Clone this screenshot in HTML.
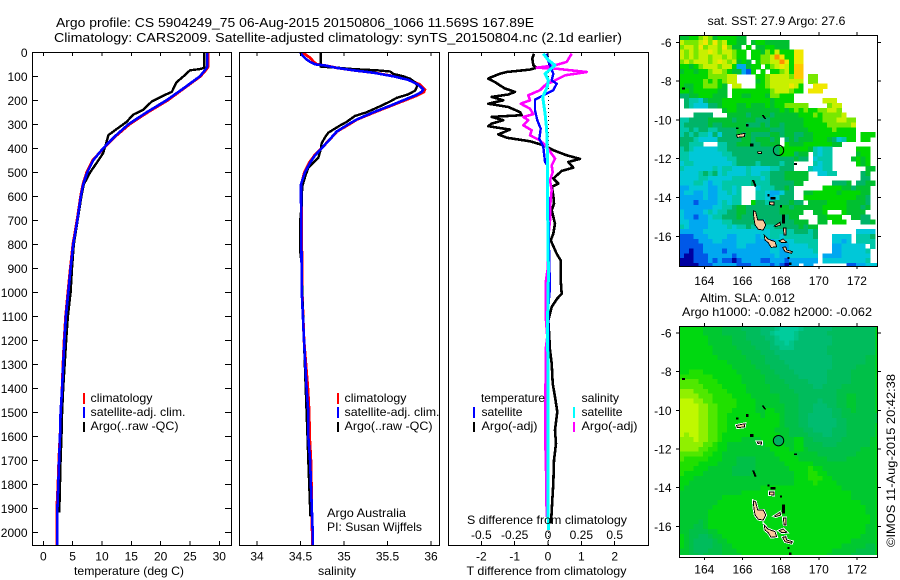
<!DOCTYPE html>
<html lang="en">
<head>
<meta charset="utf-8">
<title>Argo profile 5904249_75</title>
<style>
html,body{margin:0;padding:0;background:#fff;}
svg{display:block;font-family:"Liberation Sans",sans-serif;font-size:12px;fill:#000;}
.crisp{shape-rendering:crispEdges;}
</style>
</head>
<body>
<svg id="chart" xmlns="http://www.w3.org/2000/svg" width="900" height="580" viewBox="0 0 900 580">
  <defs>
    <clipPath id="clip-map-sst"><rect x="679.5" y="35" width="198" height="231"/></clipPath>
    <clipPath id="clip-map-sla"><rect x="679.5" y="326" width="198" height="231"/></clipPath>
    <clipPath id="clip-temp"><rect x="32" y="52" width="199" height="493"/></clipPath>
    <clipPath id="clip-sal"><rect x="239" y="52" width="200" height="493"/></clipPath>
    <clipPath id="clip-diff"><rect x="448" y="52" width="200" height="493"/></clipPath>
  </defs>

  <text x="56" y="27" font-size="13" textLength="478" lengthAdjust="spacingAndGlyphs">Argo profile: CS 5904249_75 06-Aug-2015 20150806_1066 11.569S 167.89E</text>
  <text x="54" y="42" font-size="13" textLength="568" lengthAdjust="spacingAndGlyphs">Climatology: CARS2009. Satellite-adjusted climatology: synTS_20150804.nc (2.1d earlier)</text>

  <g id="maps"></g>
  <g id="panels"></g>

  <text x="74" y="575" textLength="110" lengthAdjust="spacingAndGlyphs">temperature (deg C)</text>
  <text x="318" y="575" textLength="38" lengthAdjust="spacingAndGlyphs">salinity</text>
  <text x="466.5" y="575" textLength="160" lengthAdjust="spacingAndGlyphs">T difference from climatology</text>
  <text x="467" y="524" textLength="160" lengthAdjust="spacingAndGlyphs">S difference from climatology</text>

  <g>
    <rect class="crisp" x="83" y="393" width="2" height="11" fill="#ff0000"/>
    <rect class="crisp" x="83" y="407" width="2" height="11" fill="#0000ff"/>
    <rect class="crisp" x="83" y="422" width="2" height="10" fill="#000"/>
    <text x="90.5" y="402" textLength="62" lengthAdjust="spacingAndGlyphs">climatology</text>
    <text x="90.5" y="416" textLength="95" lengthAdjust="spacingAndGlyphs">satellite-adj. clim.</text>
    <text x="90.5" y="430" textLength="88" lengthAdjust="spacingAndGlyphs">Argo(..raw -QC)</text>
  </g>
  <g>
    <rect class="crisp" x="337" y="393" width="2" height="11" fill="#ff0000"/>
    <rect class="crisp" x="337" y="407" width="2" height="11" fill="#0000ff"/>
    <rect class="crisp" x="337" y="422" width="2" height="10" fill="#000"/>
    <text x="344.5" y="402" textLength="62" lengthAdjust="spacingAndGlyphs">climatology</text>
    <text x="344.5" y="416" textLength="95" lengthAdjust="spacingAndGlyphs">satellite-adj. clim.</text>
    <text x="344.5" y="430" textLength="88" lengthAdjust="spacingAndGlyphs">Argo(..raw -QC)</text>
  </g>
  <text x="327" y="517" textLength="79" lengthAdjust="spacingAndGlyphs">Argo Australia</text>
  <text x="327" y="531" textLength="95" lengthAdjust="spacingAndGlyphs">PI: Susan Wijffels</text>

  <g>
    <text x="481" y="402" textLength="64" lengthAdjust="spacingAndGlyphs">temperature</text>
    <text x="581.5" y="402" textLength="37.5" lengthAdjust="spacingAndGlyphs">salinity</text>
    <rect class="crisp" x="473" y="407" width="2" height="11" fill="#0000ff"/>
    <rect class="crisp" x="473" y="422" width="2" height="10" fill="#000"/>
    <rect class="crisp" x="573" y="407" width="2" height="11" fill="#00ffff"/>
    <rect class="crisp" x="573" y="422" width="2" height="10" fill="#ff00ff"/>
    <text x="481.5" y="416" textLength="41" lengthAdjust="spacingAndGlyphs">satellite</text>
    <text x="481.5" y="430" textLength="56" lengthAdjust="spacingAndGlyphs">Argo(-adj)</text>
    <text x="581.5" y="416" textLength="41" lengthAdjust="spacingAndGlyphs">satellite</text>
    <text x="581.5" y="430" textLength="56" lengthAdjust="spacingAndGlyphs">Argo(-adj)</text>
  </g>

  <text x="707.5" y="25" textLength="138" lengthAdjust="spacingAndGlyphs">sat. SST: 27.9 Argo: 27.6</text>
  <text x="700" y="302" textLength="95" lengthAdjust="spacingAndGlyphs">Altim. SLA: 0.012</text>
  <text x="682" y="316" textLength="190" lengthAdjust="spacingAndGlyphs">Argo h1000: -0.082 h2000: -0.062</text>
  <text transform="translate(895,547) rotate(-90)" textLength="173" lengthAdjust="spacingAndGlyphs">©IMOS 11-Aug-2015 20:42:38</text>
</svg>

<script>
/* ---------- depth ticks ---------- */
const depthTicks = [0,100,200,300,400,500,600,700,800,900,1000,1100,1200,1300,1400,1500,1600,1700,1800,1900,2000];
const tempTicks = [0,5,10,15,20,25,30];
const salTicks = [34,34.5,35,35.5,36];
const salTickLabels = ['34','34.5','35','35.5','36'];
const diffTempTicks = [-2,-1,0,1,2];
const diffSalTicks = [-0.5,-0.25,0,0.25,0.5];
const diffSalTickLabels = ['-0.5','-0.25','0','0.25','0.5'];
const lonTicks = [164,166,168,170,172];
const latTicks = [-6,-8,-10,-12,-14,-16];

/* ---------- temperature profile ---------- */
const tempClimDepth = [0,60,70,100,150,200,250,300,350,400,450,500,550,600,700,800,900,1000,1100,1200,1300,1400,1500,1600,1700,1800,1900,2000,2056];
const tempClimatology = [28.1,28.1,27.85,26.8,24.0,21.2,17.8,14.7,12.3,10.3,8.4,7.4,6.75,6.35,5.75,5.05,4.6,4.2,3.8,3.55,3.35,3.2,3.05,2.85,2.65,2.5,2.3,2.35,2.3];
const tempSatellite = [27.95,27.95,27.7,26.7,23.9,21.0,17.6,14.5,12.2,10.2,8.5,7.5,6.8,6.4,5.8,5.1,4.66,4.26,3.85,3.6,3.4,3.2,2.95,2.85,2.7,2.55,2.4,2.4,2.35];
const tempArgoDepth = [0,65,70,75,100,125,165,180,205,240,260,290,320,345,380,420,450,500,550,600,700,800,900,1000,1100,1200,1300,1400,1500,1600,1700,1800,1900,1917];
const tempArgo = [27.4,27.4,26.7,25,23.9,22.7,21.9,20.5,18.5,17,15.3,14.2,12.5,11.1,10.7,10.2,9.4,8,6.9,6.5,5.85,5.2,4.9,4.65,4.2,3.9,3.65,3.4,3.2,3.1,2.95,2.85,2.75,2.75];

/* ---------- salinity profile ---------- */
const salClimDepth = [0,10,20,30,40,50,55,65,75,85,100,115,135,155,165,180,200,220,250,280,300,330,370,400,430,460,500,550,600,800,1000,1200,1400,1500,1600,1700,1800,1900,2000,2056];
const salClimatology = [34.53,34.56,34.6,34.63,34.65,34.69,34.78,34.92,35.11,35.34,35.58,35.76,35.875,35.93,35.92,35.84,35.7,35.56,35.35,35.15,35.06,34.92,34.82,34.74,34.66,34.6,34.545,34.51,34.51,34.515,34.52,34.54,34.585,34.6,34.605,34.62,34.625,34.625,34.635,34.635];
const salSatellite = [34.5,34.513,34.54,34.57,34.61,34.667,34.78,34.916,35.107,35.337,35.567,35.74,35.854,35.912,35.893,35.816,35.68,35.548,35.337,35.146,35.05,34.916,34.82,34.743,34.667,34.61,34.552,34.506,34.506,34.51,34.515,34.54,34.57,34.59,34.59,34.61,34.62,34.63,34.64,34.64];
const salArgoDepth = [0,60,63,70,75,80,90,100,110,125,140,160,175,190,205,225,250,265,290,305,335,355,380,400,440,480,520,560,640,710,820,880,1000,1200,1400,1500,1600,1700,1800,1900,1935];
const salArgo = [34.732,34.732,34.877,35.107,35.375,35.53,35.567,35.68,35.76,35.816,35.843,35.816,35.74,35.605,35.53,35.414,35.26,35.126,35.03,34.954,34.82,34.78,34.743,34.736,34.705,34.59,34.552,34.52,34.513,34.494,34.494,34.513,34.52,34.54,34.56,34.57,34.58,34.59,34.6,34.61,34.615];

/* ---------- difference from climatology ---------- */
const diffTArgoDepth = [6,26,54,64,72,82,89,106,110,124,138,151,165,176,186,200,214,228,249,262,269,283,297,308,322,342,356,371,383,394,408,429,444,457,481,494,526,547,561,596,631,658,714,756,783,839,867,950,1006,1026,1061,1117,1186,1241,1297,1380,1436,1498,1575,1630,1700,1797,1866,1963];
const diffTArgo = [-0.42,-0.47,-0.44,-0.34,-0.54,-1.24,-1.44,-1.74,-1.79,-1.59,-1.44,-1.29,-0.99,-1.19,-1.69,-1.34,-1.79,-1.19,-0.84,-0.79,-1.69,-1.34,-1.69,-1.79,-1.14,-1.49,-1.24,-0.54,-0.24,-0.04,0.16,0.56,0.96,0.61,0.76,0.41,0.16,0.31,0.11,0.16,0.18,0.11,0.21,0.16,0.08,0.26,0.38,0.38,0.41,0.28,0.11,0.01,0.04,0.06,0.11,0.14,0.21,0.28,0.21,0.24,0.18,0.16,0.13,0.09];
const diffSArgoDepth = [6,40,54,64,68,82,96,124,131,158,179,200,214,235,258,269,283,304,325,346,367,394,443,471,499,533,575,644,700,783,894,950,1089,1117,1186,1227,1311,1450,1589,1727,1936];
const diffSArgo = [0.178,0.14,0.053,-0.085,0.053,0.29,0.128,0.028,-0.01,-0.06,-0.148,-0.135,-0.205,-0.135,-0.11,-0.185,-0.148,-0.185,-0.122,-0.135,-0.06,-0.01,0.053,0.028,0.035,0.015,0.028,0.015,0.015,0,0,-0.015,-0.015,-0.015,-0.005,-0.015,-0.015,-0.022,-0.022,-0.015,-0.01];
const diffTSatDepth = [6,26,89,117,131,158,172,197,242,283,318,360,394,457,471,644,881,978,1061,1200,1450,1980];
const diffTSat = [-0.04,-0.02,0.16,0.11,0.26,0.16,-0.04,-0.39,-0.39,-0.32,-0.22,-0.26,-0.14,-0.09,-0.02,0.01,0.04,0.06,0.01,0.01,0.01,0.01];
const diffSSatDepth = [6,33,54,89,117,144,186,256,325,408,478,644,922,1117,1450,1866,1990];
const diffSSat = [-0.035,0.003,0.053,-0.022,0.003,-0.005,-0.04,-0.022,-0.01,-0.005,-0.005,-0.003,0.003,-0.003,0,0,0.003];

/* ---------- gridded maps: one character per 0.25 degree cell, '.' = no data ---------- */
const sstLevels = ['#0000a0','#0058e8','#00a8f0','#00c8d8','#00c8a8','#00b468','#00c030','#00d800','#78e800','#c8f000','#f0e800','#ffc800','#ff9000'];
const sstRows = [
"66778986777766...........................",
"98889a8a897766.67766666..................",
"8998a8998a866.7.6677666..................",
"989899a9899877.776879777aa...............",
"9898998998987 7.77889ca77aa..............",
"89899989a989676.78899ca7aa...............",
"77678999899722677.789a97bb...............",
"6776778998766217.7.77897bb...............",
"777777888899....77899998bb.88............",
"777778787899....6789999999.88............",
"7667788876.99...7789999a97..aaa..........",
"7767777766.7777777789998 77.aaa..........",
"5566777666.776677768877 7................",
".544356667777777777677 77......999.......",
".543335567776676667677 88888....899......",
"........ .67766666666676787877889 98.....",
"...5555...66665666656666677787888 89.....",
"44555566666566665556666666777788 89988...",
"45555565566666555656656666777778 88889...",
"44545544555566666665556666677777 87777...",
"4545443535556565555665665566777777777.777",
"5554333355555665666 56.565666777653477.77",
"55444...4455666556666.76667777776 6......",
"4543333344555555555557777776434 4.....777",
"4433333334455555555557775 66.4344.....677",
"44333333334455555555555565 5.3444....6767",
"34433333333455554555545 5....4344.....767",
"433333343443334333344555...43344.......66",
"33334545343333433445556666 6..3344.....56",
"33334433333444444345556666 6...........55",
"33344323344444454445555566......5556.5566",
"2233332234434...34445565......7777665666",
"2332232233434...44322355..66777776777766",
"2222232233344...44323555..77777777777665",
"2221222234344..7554455565 5.6666777766665",
"22222223344566555555566566666677777666 56",
"32222343445566555555566666..667...76666",
"3221223445556555555555566....66777..6655",
"33222233344555554355555566 6..66.777...556",
"43222233334344543344555556566...........",
"22222333333333333334444455545........3333",
"1112223333223333233443444444 5...3333.4445",
"1111222332223333222233334444 4...3323.4444",
"111112222222332222233223333 44...2233333.4",
"1101122221222222222332233333 4...22333334.",
"10011122222122222222322333333.2222333333.",
"0001112121101222211222122222 2.3333333334",
"00001112222211122221210 22.22.......1122333"
];
const slaLevels = ['#00cc9c','#00c488','#00bc70','#00bc5c','#00c048','#00c830','#00d810','#20e000','#50e800','#90f000','#c0f800'];
const slaRows = [
"66666555544443333222100001222222333333333",
"66666555544444333221000012222223333333333",
"66666655555444333322100012222222333333333",
"66666655555444433332110122222222333333333",
"66666665555544443332211122222223333333333",
"66666665555554444333222222222223333333333",
"66666666555555444433322222222222333333344",
"66666666665555544433332222222222333333344",
"66666666666555554443333222222222333334444",
"66777666666655555444333322222223333344444",
"77777776666665555544433332222223333344444",
"88887777666665555544443333322223333344444",
"88888777766666555554444333332233334444444",
"99988877776666555554444433333333344444444",
"99998887777666655555544443333333344554444",
"aaa99887777766665555544443333233344554444",
"aaaa9988777766665555554443332223344554444",
"aaaa9988777666665566554443332222334454444",
"aaaa99887766666665666544433222223344444444",
"aaaa99887766666666666544433222222334444444",
"aaaa9988776666666666654443322222233444444",
"aaaa9988776666666666555444332222333444444",
"a9aa9988766666666666655444433322333444444",
"999a9988766665555666655566443333334444445",
"99999887665555555566665566444433344444445",
"99998877665555555556666566544444444444555",
"88888776655555555555666655555444444445555",
"87777766655544445555566665555554444555555",
"77776666555544445555556666665555555555555",
"77766655555444445555555666676655555555555",
"76666555555444455555555566677665555555555",
"66655555555555555555555566677766555555555",
"66555555555555555555555566667666655555555",
"65555555555555555666666666666666665555555",
"55555555555556666666666666666666666655555",
"55555555566666666666666666666666666655555",
"55555555666666666666666666666666666666555",
"55555556666666666666666666666666666666655",
"55555566666666666666666666666666666666655",
"55555566666666666666666666666666666666665",
"55554566666666666666666666666666666666665",
"55544566666666666666666666666666666666655",
"55444455666666666666666666666666666666655",
"65443345566666666666666666666666666666555",
"65433334556666666666666666666666666655555",
"65433334455666666666666666666666665555544",
"55433344455566666666666666666666555554444",
"55443444455556666666666666666665555544444"
];
const profileLon = 167.89;
const profileLat = -11.569;

/* ---------- coastlines as lon,lat ---------- */
const peachIslands = [
 [[166.57,-14.68],[166.69,-14.73],[166.8,-15.16],[167.09,-15.16],[167.22,-15.42],[167.09,-15.68],[166.83,-15.64],[166.66,-15.42],[166.6,-15.07]],
 [[167.14,-15.93],[167.35,-16.15],[167.71,-16.28],[167.79,-16.54],[167.5,-16.57],[167.35,-16.33],[167.18,-16.19]],
 [[167.67,-15.47],[167.97,-15.28],[168,-15.42],[167.74,-15.5]],
 [[168.14,-15.57],[168.27,-15.57],[168.27,-15.93],[168.18,-15.93]],
 [[167.92,-16.23],[168.14,-16.14],[168.32,-16.31],[168.06,-16.33]],
 [[168.11,-16.57],[168.27,-16.54],[168.32,-16.71],[168.61,-16.79],[168.58,-16.88],[168.23,-16.79]],
 [[165.69,-10.78],[166.13,-10.69],[166.1,-10.86],[165.73,-10.9]],
 [[166.78,-11.64],[167,-11.64],[167,-11.74],[166.82,-11.72]],
 [[167.41,-14.22],[167.64,-14.22],[167.64,-14.39],[167.41,-14.36]]
];
const blackIslets = [
 [[162.85,-8.36],[162.98,-8.36],[162.98,-8.42],[162.85,-8.42]],
 [[165.68,-10.4],[165.78,-10.4],[165.78,-10.45],[165.68,-10.45]],
 [[166.2,-10.22],[166.3,-10.22],[166.3,-10.32],[166.2,-10.32]],
 [[167.04,-9.76],[167.09,-9.76],[167.21,-9.93],[167.16,-9.93]],
 [[166.42,-11.25],[166.55,-11.25],[166.55,-11.36],[166.42,-11.36]],
 [[168.73,-12.25],[168.85,-12.25],[168.85,-12.3],[168.73,-12.3]],
 [[166.53,-13.13],[166.6,-13.13],[166.71,-13.4],[166.66,-13.44]],
 [[167.33,-13.85],[167.4,-13.85],[167.4,-13.92],[167.33,-13.92]],
 [[167.5,-14],[167.7,-14],[167.7,-14.08],[167.5,-14.08]],
 [[168,-14.42],[168.06,-14.42],[168.06,-14.5],[168,-14.5]],
 [[168.09,-14.9],[168.2,-14.9],[168.2,-15.32],[168.09,-15.32]],
 [[168.38,-17.1],[168.44,-17.1],[168.44,-17.16],[168.38,-17.16]],
 [[168.46,-17.38],[168.55,-17.38],[168.55,-17.46],[168.46,-17.46]]
];

/* ---------- scales ---------- */
const NS = 'http://www.w3.org/2000/svg';
const yDepth = d => 52.3 + d * 0.24;
const xTemp = t => 43.3 + t * 5.867;
const xSal = s => 257 + (s - 34) * 87;
const xDiffT = t => 548 + t * 33.33;
const xDiffS = s => 548 + s * 133.33;
const xLon = lon => 704.3 + (lon - 164) * 19.08;
const ySstLat = lat => 42.3 + (-6 - lat) * 19.4;
const ySlaLat = lat => 333 + (-6 - lat) * 19.33;

function mk(parent, tag, attrs) {
  const el = document.createElementNS(NS, tag);
  for (const k in attrs) el.setAttribute(k, attrs[k]);
  parent.appendChild(el);
  return el;
}
const panels = document.getElementById('panels');
const maps = document.getElementById('maps');

function label(parent, x, y, str, anchor, name) {
  const el = mk(parent, 'text', {x: x, y: y, 'text-anchor': anchor});
  el.textContent = str;
  
  
}
function tickLine(parent, x1, y1, x2, y2, name) {
  const el = mk(parent, 'line', {x1: x1, y1: y1, x2: x2, y2: y2, stroke: '#000', 'stroke-width': 1, class: 'crisp'});
  
  
}
function profile(parent, xs, depths, xScale, color, width, name, clip) {
  const pts = xs.map((v, i) => xScale(v).toFixed(1) + ',' + yDepth(depths[i]).toFixed(1)).join(' ');
  const el = mk(parent, 'polyline', {points: pts, fill: 'none', stroke: color, 'stroke-width': width, 'stroke-linejoin': 'round', 'clip-path': 'url(#' + clip + ')', class: 'crisp'});
  
  
}
function frame(parent, x, y, w, h, name) {
  const el = mk(parent, 'rect', {x: x, y: y, width: w, height: h, fill: 'none', stroke: '#000', 'stroke-width': 1.4, class: 'crisp'});
  
  
}

/* ---------- temperature panel ---------- */
const gT = mk(panels, 'g', {});


profile(gT, tempClimatology, tempClimDepth, xTemp, '#ff0000', 2.8, 'temperature-climatology-line', 'clip-temp');
profile(gT, tempArgo, tempArgoDepth, xTemp, '#000000', 2.4, 'temperature-argo-line', 'clip-temp');
profile(gT, tempSatellite, tempClimDepth, xTemp, '#0000ff', 2.6, 'temperature-satellite-line', 'clip-temp');
frame(gT, 32.5, 52.5, 199, 493, 'temperature-plot-frame');
depthTicks.forEach(d => {
  tickLine(gT, 32, yDepth(d), 38, yDepth(d), 'depth-tick-left');
  tickLine(gT, 225, yDepth(d), 231, yDepth(d), 'depth-tick-right');
  label(gT, 27.5, yDepth(d) + 4.5, String(d), 'end', 'depth-tick-label');
});
tempTicks.forEach(t => {
  tickLine(gT, xTemp(t), 52, xTemp(t), 56, 'temperature-top-tick');
  tickLine(gT, xTemp(t), 541, xTemp(t), 545, 'temperature-bottom-tick');
  label(gT, xTemp(t), 560.5, String(t), 'middle', 'temperature-tick-label');
});

/* ---------- salinity panel ---------- */
const gS = mk(panels, 'g', {});


profile(gS, salClimatology, salClimDepth, xSal, '#ff0000', 2.8, 'salinity-climatology-line', 'clip-sal');
profile(gS, salArgo, salArgoDepth, xSal, '#000000', 2.4, 'salinity-argo-line', 'clip-sal');
profile(gS, salSatellite, salClimDepth, xSal, '#0000ff', 2.6, 'salinity-satellite-line', 'clip-sal');
frame(gS, 239.5, 52.5, 200, 493, 'salinity-plot-frame');
salTicks.forEach((s, i) => {
  tickLine(gS, xSal(s), 52, xSal(s), 56, 'salinity-top-tick');
  tickLine(gS, xSal(s), 541, xSal(s), 545, 'salinity-bottom-tick');
  label(gS, xSal(s), 560.5, salTickLabels[i], 'middle', 'salinity-tick-label');
});

/* ---------- difference panel ---------- */
const gD = mk(panels, 'g', {});


const zero = mk(gD, 'line', {x1: xDiffT(0) + 0.5, y1: 52, x2: xDiffT(0) + 0.5, y2: 545, stroke: '#000', 'stroke-width': 1, 'stroke-dasharray': '1 3', class: 'crisp'});


profile(gD, diffTArgo, diffTArgoDepth, xDiffT, '#000000', 2.6, 'temperature-argo-difference-line', 'clip-diff');
profile(gD, diffSArgo, diffSArgoDepth, xDiffS, '#ff00ff', 2.6, 'salinity-argo-difference-line', 'clip-diff');
profile(gD, diffTSat, diffTSatDepth, xDiffT, '#0000ff', 2.4, 'temperature-satellite-difference-line', 'clip-diff');
profile(gD, diffSSat, diffSSatDepth, xDiffS, '#00ffff', 3, 'salinity-satellite-difference-line', 'clip-diff');
frame(gD, 448.5, 52.5, 200, 493, 'difference-plot-frame');
diffTempTicks.forEach(t => {
  tickLine(gD, xDiffT(t), 52, xDiffT(t), 56, 'difference-top-tick');
  tickLine(gD, xDiffT(t), 541, xDiffT(t), 545, 'difference-bottom-tick');
  label(gD, xDiffT(t), 560.5, String(t), 'middle', 't-difference-tick-label');
});
diffSalTicks.forEach((s, i) => {
  label(gD, xDiffS(s), 539, diffSalTickLabels[i], 'middle', 's-difference-tick-label');
});

/* ---------- maps ---------- */
function drawMap(cfg) {
  const g = mk(maps, 'g', {});
  
  
  const inner = mk(g, 'g', {'clip-path': 'url(#' + cfg.clip + ')'});
  if (cfg.base) {
    const bg = mk(inner, 'rect', {x: 679.5, y: cfg.top, width: 198, height: 229, fill: cfg.base, class: 'crisp'});
    
    
  }
  const lon0 = 162.69;
  cfg.rows.forEach((row, r) => {
    const lat1 = cfg.lat0 - r * 0.25;
    const lat2 = lat1 - 0.25;
    const clean = row.replace(/ /g, '');
    for (let c = 0; c < clean.length; c++) {
      const ch = clean[c];
      if (ch === '.') continue;
      const x1 = xLon(lon0 + c * 0.25);
      const x2 = xLon(lon0 + (c + 1) * 0.25);
      const cell = mk(inner, 'rect', {x: x1.toFixed(2), y: cfg.yLat(lat1).toFixed(2), width: (x2 - x1 + 0.4).toFixed(2), height: (cfg.yLat(lat2) - cfg.yLat(lat1) + 0.4).toFixed(2), fill: cfg.levels[parseInt(ch, 16)], class: 'crisp'});
      
      
    }
  });
  if (cfg.cover) {
    const strip = mk(inner, 'rect', {x: 679.5, y: cfg.cover, width: 198, height: 3, fill: '#fff', class: 'crisp'});
    
    
  }
  peachIslands.forEach(poly => {
    const pts = poly.map(p => xLon(p[0]).toFixed(1) + ',' + cfg.yLat(p[1]).toFixed(1)).join(' ');
    if (cfg.halo) {
      const h = mk(inner, 'polygon', {points: pts, fill: '#fff', stroke: '#fff', 'stroke-width': 2.6, class: 'crisp'});
      
      
    }
    const el = mk(inner, 'polygon', {points: pts, fill: '#fcc89b', stroke: '#000', 'stroke-width': 0.9, class: 'crisp'});
    
    
  });
  blackIslets.forEach(poly => {
    const pts = poly.map(p => xLon(p[0]).toFixed(1) + ',' + cfg.yLat(p[1]).toFixed(1)).join(' ');
    const el = mk(inner, 'polygon', {points: pts, fill: '#000', stroke: '#000', 'stroke-width': 0.8, class: 'crisp'});
    
    
  });
  const marker = mk(inner, 'circle', {cx: xLon(profileLon), cy: cfg.yLat(profileLat), r: 5.2, fill: cfg.markerFill, stroke: '#000', 'stroke-width': 1});
  
  
  frame(g, 679.5, cfg.top + 0.5, 198, cfg.height, cfg.name + '-frame');
  latTicks.forEach(lat => {
    tickLine(g, 676, cfg.yLat(lat), 679.5, cfg.yLat(lat), 'latitude-tick-left');
    tickLine(g, 877.5, cfg.yLat(lat), 881, cfg.yLat(lat), 'latitude-tick-right');
    label(g, 671.5, cfg.yLat(lat) + 4.5, String(lat), 'end', 'latitude-tick-label');
  });
  lonTicks.forEach(lon => {
    tickLine(g, xLon(lon), cfg.top - 3, xLon(lon), cfg.top, 'longitude-tick-top');
    tickLine(g, xLon(lon), cfg.top + cfg.height, xLon(lon), cfg.top + cfg.height + 3, 'longitude-tick-bottom');
    label(g, xLon(lon), cfg.lonLabelY, String(lon), 'middle', 'longitude-tick-label');
  });
}
drawMap({name: 'sst-map', clip: 'clip-map-sst', rows: sstRows, levels: sstLevels, top: 35, height: 231, lat0: -5.63, yLat: ySstLat, lonLabelY: 285, markerFill: 'none', halo: false, base: null, cover: null});
drawMap({name: 'sla-map', clip: 'clip-map-sla', rows: slaRows, levels: slaLevels, top: 326, height: 231, lat0: -5.64, yLat: ySlaLat, lonLabelY: 573.5, markerFill: '#00b060', halo: true, base: '#00d810', cover: 555});
</script>
</body>
</html>
